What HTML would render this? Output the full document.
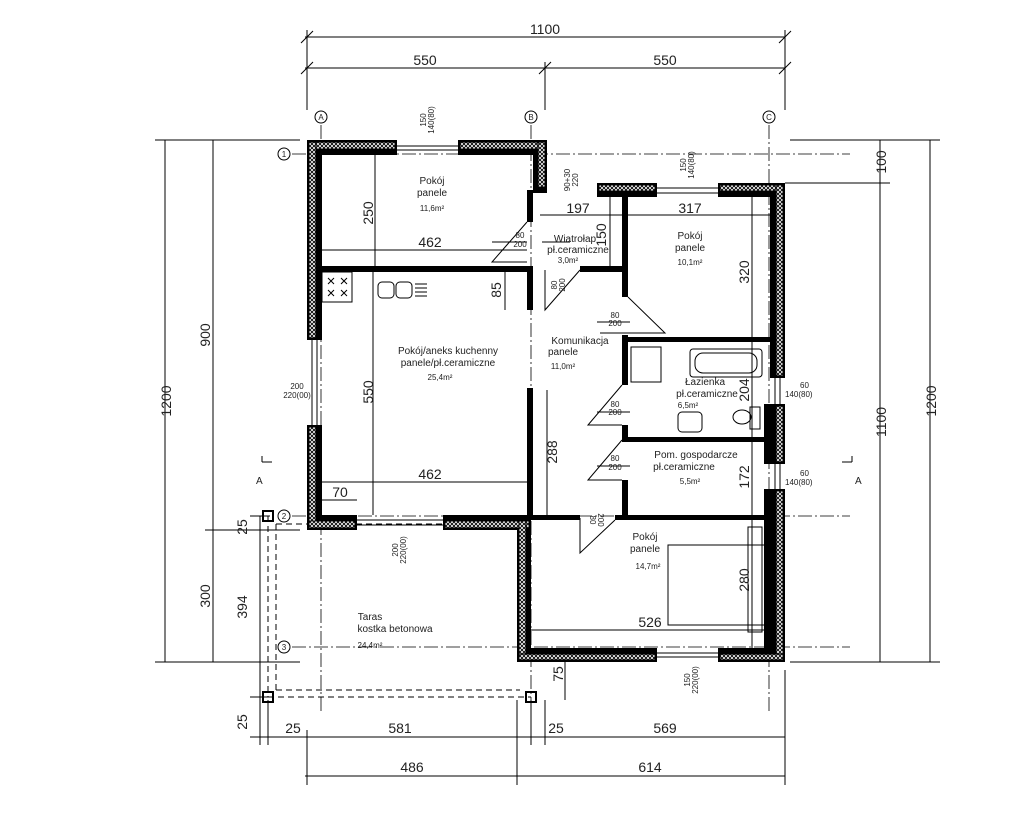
<!DOCTYPE html>
<html><head><meta charset="utf-8"><style>
html,body{margin:0;padding:0;background:#fff;}
svg{display:block;font-family:"Liberation Sans",sans-serif;}
.d{font-size:14px;fill:#222;}
.l{font-size:10px;fill:#222;}
.s{font-size:8px;fill:#222;}
</style></head><body>
<svg width="1016" height="827" viewBox="0 0 1016 827" xmlns="http://www.w3.org/2000/svg">
<defs>
<pattern id="h" width="4" height="4" patternUnits="userSpaceOnUse">
<rect width="4" height="4" fill="#fff"/>
<path d="M0 0L4 4M4 0L0 4" stroke="#000" stroke-width="0.9"/>
</pattern>
</defs>
<g stroke="#000" stroke-width="1" fill="none">
<line x1="305" y1="37" x2="785" y2="37"/><line x1="305" y1="68" x2="785" y2="68"/>
<line x1="307" y1="30" x2="307" y2="110"/><line x1="785" y1="30" x2="785" y2="110"/><line x1="545" y1="62" x2="545" y2="110"/>
<line x1="301" y1="43" x2="313" y2="31"/><line x1="779" y1="43" x2="791" y2="31"/>
<line x1="301" y1="74" x2="313" y2="62"/><line x1="539" y1="74" x2="551" y2="62"/><line x1="779" y1="74" x2="791" y2="62"/>
<line x1="165" y1="140" x2="165" y2="662"/><line x1="213" y1="140" x2="213" y2="662"/><line x1="260" y1="516" x2="260" y2="745"/>
<line x1="155" y1="140" x2="300" y2="140"/><line x1="155" y1="662" x2="300" y2="662"/><line x1="205" y1="530" x2="300" y2="530"/>
<line x1="250" y1="697" x2="270" y2="697"/><line x1="250" y1="737" x2="270" y2="737"/><line x1="250" y1="516" x2="270" y2="516"/>
<line x1="880" y1="140" x2="880" y2="662"/><line x1="930" y1="140" x2="930" y2="662"/>
<line x1="785" y1="183" x2="890" y2="183"/><line x1="790" y1="140" x2="940" y2="140"/><line x1="790" y1="662" x2="940" y2="662"/>
<line x1="260" y1="737" x2="785" y2="737"/><line x1="305" y1="776" x2="785" y2="776"/>
<line x1="268" y1="700" x2="268" y2="745"/><line x1="307" y1="730" x2="307" y2="785"/><line x1="517" y1="700" x2="517" y2="785"/>
<line x1="531" y1="700" x2="531" y2="745"/><line x1="545" y1="700" x2="545" y2="745"/><line x1="785" y1="670" x2="785" y2="785"/>
<g stroke-dasharray="14 3 2 3" stroke-width="0.8">
<line x1="321" y1="125" x2="321" y2="712"/><line x1="531" y1="125" x2="531" y2="712"/><line x1="769" y1="125" x2="769" y2="712"/>
<line x1="292" y1="154" x2="850" y2="154"/><line x1="292" y1="516" x2="850" y2="516"/><line x1="292" y1="647" x2="850" y2="647"/>
</g>
<circle cx="321" cy="117" r="6"/><circle cx="531" cy="117" r="6"/><circle cx="769" cy="117" r="6"/>
<circle cx="284" cy="154" r="6"/><circle cx="284" cy="516" r="6"/><circle cx="284" cy="647" r="6"/>
<g stroke-dasharray="6 4"><line x1="268" y1="516" x2="268" y2="697"/><line x1="268" y1="697" x2="531" y2="697"/><line x1="276" y1="524" x2="517" y2="524"/><line x1="276" y1="524" x2="276" y2="690"/><line x1="276" y1="690" x2="520" y2="690"/></g>
<rect x="263" y="511" width="10" height="10" stroke-width="2"/><rect x="263" y="692" width="10" height="10" stroke-width="2"/><rect x="526" y="692" width="10" height="10" stroke-width="2"/>
<line x1="397" y1="150" x2="458" y2="150"/><line x1="397" y1="146" x2="458" y2="146"/>
<line x1="657" y1="193" x2="718" y2="193"/><line x1="657" y1="188" x2="718" y2="188"/>
<line x1="312" y1="340" x2="312" y2="425"/><line x1="317" y1="340" x2="317" y2="425"/>
<line x1="357" y1="520" x2="443" y2="520"/><line x1="357" y1="525" x2="443" y2="525"/>
<line x1="657" y1="653" x2="718" y2="653"/><line x1="657" y1="657" x2="718" y2="657"/>
<line x1="775" y1="378" x2="775" y2="404"/><line x1="780" y1="378" x2="780" y2="404"/>
<line x1="775" y1="464" x2="775" y2="489"/><line x1="780" y1="464" x2="780" y2="489"/>
<line x1="375" y1="155" x2="375" y2="266"/><line x1="322" y1="250" x2="527" y2="250"/>
<line x1="373" y1="272" x2="373" y2="515"/><line x1="322" y1="482" x2="527" y2="482"/>
<line x1="505" y1="272" x2="505" y2="310"/><line x1="322" y1="500" x2="357" y2="500"/>
<line x1="547" y1="390" x2="547" y2="515"/><line x1="540" y1="215" x2="770" y2="215"/>
<line x1="610" y1="197" x2="610" y2="266"/><line x1="752" y1="197" x2="752" y2="337"/>
<line x1="752" y1="342" x2="752" y2="437"/><line x1="752" y1="442" x2="752" y2="515"/><line x1="752" y1="520" x2="752" y2="648"/>
<line x1="531" y1="630" x2="770" y2="630"/><line x1="565" y1="662" x2="565" y2="700"/>
<path d="M527 222 L492 262 L527 262"/><path d="M580 270 L545 310 L545 270"/>
<path d="M628 297 L665 333 L600 333"/><path d="M622 385 L588 425 L622 425"/>
<path d="M622 440 L588 480 L622 480"/><path d="M615 520 L580 553 L580 518"/>
<line x1="542" y1="242" x2="570" y2="242"/><line x1="492" y1="242" x2="527" y2="242"/><line x1="597" y1="322" x2="630" y2="322"/><line x1="597" y1="412" x2="630" y2="412"/><line x1="597" y1="466" x2="630" y2="466"/>
<rect x="322" y="272" width="30" height="30"/>
<rect x="378" y="282" width="16" height="16" rx="4"/><rect x="396" y="282" width="16" height="16" rx="4"/>
<path d="M415 284h12M415 288h12M415 292h12M415 296h12"/>
<path d="M328 278l6 6M334 278l-6 6M341 278l6 6M347 278l-6 6M328 290l6 6M334 290l-6 6M341 290l6 6M347 290l-6 6"/>
<rect x="631" y="347" width="30" height="35"/>
<rect x="690" y="349" width="72" height="28" rx="3"/><rect x="695" y="353" width="62" height="20" rx="8"/>
<rect x="678" y="412" width="24" height="20" rx="4"/>
<ellipse cx="742" cy="417" rx="9" ry="7"/><rect x="750" y="407" width="10" height="22"/>
<rect x="668" y="545" width="100" height="80"/><rect x="748" y="527" width="14" height="105"/>
<path d="M262 462v-6M262 462h10M852 462v-6M852 462h-10"/>
</g>
<g fill="#000">
<rect x="307" y="140" width="90" height="15"/><rect x="458" y="140" width="89" height="15"/>
<rect x="307" y="140" width="15" height="200"/><rect x="307" y="425" width="15" height="105"/>
<rect x="533" y="140" width="14" height="52"/><rect x="533" y="188" width="14" height="5"/><rect x="527" y="190" width="6" height="32"/>
<rect x="307" y="515" width="50" height="15"/><rect x="443" y="515" width="88" height="15"/>
<rect x="517" y="515" width="14" height="147"/>
<rect x="597" y="183" width="60" height="14"/><rect x="718" y="183" width="67" height="14"/>
<rect x="770" y="183" width="15" height="195"/><rect x="764" y="404" width="21" height="60"/><rect x="764" y="489" width="21" height="173"/>
<rect x="517" y="648" width="140" height="14"/><rect x="718" y="648" width="67" height="14"/>
<rect x="322" y="266" width="211" height="6"/><rect x="527" y="266" width="6" height="44"/><rect x="527" y="388" width="6" height="127"/>
<rect x="580" y="266" width="45" height="6"/><rect x="622" y="197" width="6" height="100"/>
<rect x="622" y="335" width="6" height="50"/><rect x="622" y="337" width="148" height="5"/>
<rect x="622" y="425" width="6" height="15"/><rect x="622" y="437" width="148" height="5"/>
<rect x="622" y="480" width="6" height="38"/><rect x="531" y="515" width="49" height="5"/><rect x="615" y="515" width="155" height="5"/>
</g>
<g fill="url(#h)" stroke="#000" stroke-width="1">
<rect x="309" y="142" width="86" height="7"/><rect x="460" y="142" width="85" height="7"/>
<rect x="309" y="142" width="7" height="196"/><rect x="309" y="427" width="7" height="101"/>
<rect x="538" y="142" width="7" height="45"/>
<rect x="309" y="521" width="46" height="7"/><rect x="445" y="521" width="84" height="7"/>
<rect x="519" y="521" width="7" height="139"/>
<rect x="599" y="185" width="56" height="6"/><rect x="720" y="185" width="63" height="6"/>
<rect x="776" y="185" width="7" height="191"/><rect x="776" y="406" width="7" height="56"/><rect x="776" y="491" width="7" height="169"/>
<rect x="519" y="654" width="136" height="6"/><rect x="720" y="654" width="63" height="6"/>
</g>
<text class="d" x="545" y="34" text-anchor="middle">1100</text>
<text class="d" x="425" y="65" text-anchor="middle">550</text><text class="d" x="665" y="65" text-anchor="middle">550</text>
<text class="d" transform="translate(171,401) rotate(-90)" text-anchor="middle">1200</text>
<text class="d" transform="translate(210,335) rotate(-90)" text-anchor="middle">900</text>
<text class="d" transform="translate(210,596) rotate(-90)" text-anchor="middle">300</text>
<text class="d" transform="translate(247,527) rotate(-90)" text-anchor="middle">25</text>
<text class="d" transform="translate(247,607) rotate(-90)" text-anchor="middle">394</text>
<text class="d" transform="translate(247,722) rotate(-90)" text-anchor="middle">25</text>
<text class="d" transform="translate(886,162) rotate(-90)" text-anchor="middle">100</text>
<text class="d" transform="translate(886,422) rotate(-90)" text-anchor="middle">1100</text>
<text class="d" transform="translate(936,401) rotate(-90)" text-anchor="middle">1200</text>
<text class="d" x="293" y="733" text-anchor="middle">25</text><text class="d" x="400" y="733" text-anchor="middle">581</text>
<text class="d" x="556" y="733" text-anchor="middle">25</text><text class="d" x="665" y="733" text-anchor="middle">569</text>
<text class="d" x="412" y="772" text-anchor="middle">486</text><text class="d" x="650" y="772" text-anchor="middle">614</text>
<text class="d" transform="translate(373,213) rotate(-90)" text-anchor="middle">250</text>
<text class="d" x="430" y="247" text-anchor="middle">462</text>
<text class="d" transform="translate(373,392) rotate(-90)" text-anchor="middle">550</text>
<text class="d" x="430" y="479" text-anchor="middle">462</text>
<text class="d" transform="translate(501,290) rotate(-90)" text-anchor="middle">85</text>
<text class="d" x="340" y="497" text-anchor="middle">70</text>
<text class="d" transform="translate(557,452) rotate(-90)" text-anchor="middle">288</text>
<text class="d" x="578" y="213" text-anchor="middle">197</text><text class="d" x="690" y="213" text-anchor="middle">317</text>
<text class="d" transform="translate(606,235) rotate(-90)" text-anchor="middle">150</text>
<text class="d" transform="translate(749,272) rotate(-90)" text-anchor="middle">320</text>
<text class="d" transform="translate(749,390) rotate(-90)" text-anchor="middle">204</text>
<text class="d" transform="translate(749,477) rotate(-90)" text-anchor="middle">172</text>
<text class="d" transform="translate(749,580) rotate(-90)" text-anchor="middle">280</text>
<text class="d" x="650" y="627" text-anchor="middle">526</text>
<text class="d" transform="translate(563,674) rotate(-90)" text-anchor="middle">75</text>
<g class="s" text-anchor="middle"><text x="321" y="120">A</text><text x="531" y="120">B</text><text x="769" y="120">C</text><text x="284" y="157">1</text><text x="284" y="519">2</text><text x="284" y="650">3</text></g>
<text class="l" x="256" y="484">A</text><text class="l" x="855" y="484">A</text>
<g class="l" text-anchor="middle">
<text x="432" y="184">Pokój</text><text x="432" y="196">panele</text><text x="432" y="211" font-size="8">11,6m²</text>
<text x="575" y="242">Wiatrołap</text><text x="578" y="253">pł.ceramiczne</text><text x="568" y="263" font-size="8">3,0m²</text>
<text x="690" y="239">Pokój</text><text x="690" y="251">panele</text><text x="690" y="265" font-size="8">10,1m²</text>
<text x="448" y="354">Pokój/aneks kuchenny</text><text x="448" y="366">panele/pł.ceramiczne</text><text x="440" y="380" font-size="8">25,4m²</text>
<text x="580" y="344">Komunikacja</text><text x="563" y="355">panele</text><text x="563" y="369" font-size="8">11,0m²</text>
<text x="705" y="385">Łazienka</text><text x="707" y="397">pł.ceramiczne</text><text x="688" y="408" font-size="8">6,5m²</text>
<text x="696" y="458">Pom. gospodarcze</text><text x="684" y="470">pł.ceramiczne</text><text x="690" y="484" font-size="8">5,5m²</text>
<text x="645" y="540">Pokój</text><text x="645" y="552">panele</text><text x="648" y="569" font-size="8">14,7m²</text>
<text x="370" y="620">Taras</text><text x="395" y="632">kostka betonowa</text><text x="370" y="648" font-size="8">24,4m²</text>
</g>
<g class="s" text-anchor="middle">
<text x="520" y="238">80</text><text x="520" y="247">200</text>
<text x="615" y="318">80</text><text x="615" y="326">200</text>
<text x="615" y="407">80</text><text x="615" y="415">200</text>
<text x="615" y="461">80</text><text x="615" y="470">200</text>
<text x="297" y="389">200</text><text x="297" y="398">220(00)</text>
<text x="800" y="388" text-anchor="start">60</text><text x="785" y="397" text-anchor="start">140(80)</text>
<text x="800" y="476" text-anchor="start">60</text><text x="785" y="485" text-anchor="start">140(80)</text>
<text transform="translate(398,550) rotate(-90)">200</text><text transform="translate(406,550) rotate(-90)">220(00)</text>
<text transform="translate(690,680) rotate(-90)">150</text><text transform="translate(698,680) rotate(-90)">220(00)</text>
<text transform="translate(426,120) rotate(-90)">150</text><text transform="translate(434,120) rotate(-90)">140(80)</text>
<text transform="translate(686,165) rotate(-90)">150</text><text transform="translate(694,165) rotate(-90)">140(80)</text>
<text transform="translate(570,180) rotate(-90)">90+30</text><text transform="translate(578,180) rotate(-90)">220</text>
<text transform="translate(557,285) rotate(-90)">80</text><text transform="translate(565,285) rotate(-90)">200</text>
<text transform="translate(598,520) rotate(90)">200</text><text transform="translate(590,520) rotate(90)">80</text>
</g>
</svg>
</body></html>
